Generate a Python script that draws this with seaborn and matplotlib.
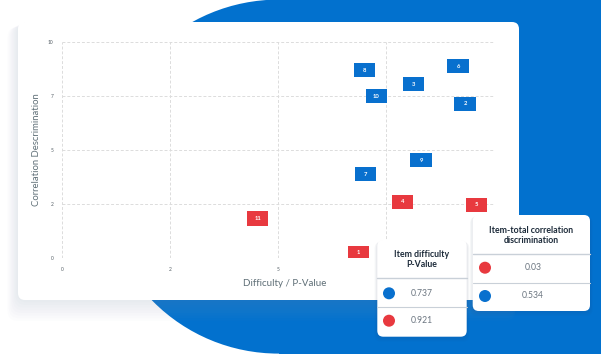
import numpy as np
import pandas as pd
import matplotlib
matplotlib.use('Agg')
import matplotlib.pyplot as plt
import seaborn as sns
from matplotlib.patches import Circle, Rectangle, FancyBboxPatch

# datos del grafico
items = ['1', '2', '3', '4', '5', '6', '7', '8', '9', '10', '11']
difficulty = [6.86, 9.33, 8.14, 7.89, 9.60, 9.17, 7.03, 7.01, 8.31, 7.28, 4.53]
correlation = [0.26, 7.14, 8.03, 2.61, 2.47, 8.86, 3.88, 8.68, 4.52, 7.48, 1.84]
grupo = ['low', 'high', 'high', 'low', 'low', 'high', 'high', 'high', 'high', 'high', 'low']

tick_pos = [0, 2.5, 5, 7.5, 10]
tick_labels = ['0', '2', '5', '7', '10']

# tarjetas
card_a_title = 'Item difficulty\nP-Value'
card_a_values = ['0.737', '0.921']
card_a_groups = ['high', 'low']
card_b_title = 'Item-total correlation\ndiscrimination'
card_b_values = ['0.03', '0.534']
card_b_groups = ['low', 'high']

BLUE = '#0870CE'
RED = '#E8393F'
palette = {'high': BLUE, 'low': RED}

sns.set_theme(style='white')
plt.rcParams['font.family'] = ['Lato', 'DejaVu Sans']

W, H = 601, 354
fig = plt.figure(figsize=(W / 100, H / 100), dpi=100)
fig.patch.set_facecolor('white')

# fondo: mancha azul + tarjeta blanca
bg = fig.add_axes([0, 0, 1, 1], zorder=0)
bg.set_xlim(0, W)
bg.set_ylim(H, 0)
bg.axis('off')
bg.add_patch(Circle((278.5, 176.6), 177, color='#0271CE', lw=0))
bg.add_patch(Rectangle((278.5, 0), W - 278.5, H, color='#0271CE', lw=0))
for i in range(8):
    d = 2 + i * 2.2
    bg.add_patch(FancyBboxPatch((18 - d * 0.6, 22 + d * 0.3), 501 + d * 0.4, 278 + d * 0.9,
                                boxstyle='round,pad=0,rounding_size=10',
                                fc='#8f9fc0', ec='none', alpha=0.025))
bg.add_patch(FancyBboxPatch((18, 22), 501, 278, boxstyle='round,pad=0,rounding_size=7',
                            fc='white', ec='none'))

# grafico de dispersion
ax = fig.add_axes([62 / W, (H - 258.3) / H, 432 / W, 216.6 / H], zorder=1)
ax.patch.set_alpha(0)
df = pd.DataFrame({'item': items, 'x': difficulty, 'y': correlation, 'grupo': grupo})
rect = [(-1.5, -1), (1.5, -1), (1.5, 1), (-1.5, 1), (-1.5, -1)]
sns.scatterplot(data=df, x='x', y='y', hue='grupo', palette=palette, marker=rect,
                s=235, linewidth=0, legend=False, ax=ax, zorder=3)
for _, r in df.iterrows():
    ax.text(r['x'], r['y'], r['item'], color='white', fontsize=4.2, fontweight='bold',
            ha='center', va='center', zorder=4)

ax.set_xlim(0, 10)
ax.set_ylim(0, 10)
ax.set_xticks(tick_pos)
ax.set_xticklabels(tick_labels)
ax.set_yticks(tick_pos)
ax.set_yticklabels(tick_labels)
ax.tick_params(axis='both', length=0, labelsize=3.5, labelcolor='#555f66', pad=6)
ax.grid(True, color='#dcdcdc', linestyle=(0, (3, 2)), linewidth=0.7)
for s in ax.spines.values():
    s.set_visible(False)
ax.set_xlabel('Difficulty / P-Value', fontsize=7, color='#5f6f77', labelpad=9)
ax.set_ylabel('Correlation Descrimination', fontsize=6.8, color='#5f6f77', labelpad=12)
ax.xaxis.set_label_coords(0.515, -0.095)
ax.yaxis.set_label_coords(-0.048, 0.5)

# tarjetas superpuestas
ov = fig.add_axes([0, 0, 1, 1], zorder=5)
ov.set_xlim(0, W)
ov.set_ylim(H, 0)
ov.axis('off')
ov.patch.set_alpha(0)


def draw_card(x0, y0, w, h, title, values, groups, title_y, div1, row_y, div2, dot_x, val_x):
    for i in range(4):
        d = 1 + i * 1.5
        ov.add_patch(FancyBboxPatch((x0 - d * 0.5, y0 + d * 0.3), w + d, h + d * 0.6,
                                    boxstyle='round,pad=0,rounding_size=7',
                                    fc='#33446a', ec='none', alpha=0.03))
    ov.add_patch(FancyBboxPatch((x0, y0), w, h, boxstyle='round,pad=0,rounding_size=6',
                                fc='white', ec='none'))
    ov.text(x0 + w / 2, title_y, title, ha='center', va='center', fontsize=6.3,
            fontweight='bold', color='#1d2b3a', linespacing=1.25)
    ov.plot([x0, x0 + w], [div1, div1], color='#c9d0d8', lw=1.0)
    ov.plot([x0, x0 + w], [div2, div2], color='#c9d0d8', lw=0.8)
    for ry, v, g in zip(row_y, values, groups):
        ov.add_patch(Circle((dot_x, ry), 6, color=palette[g], lw=0))
        ov.text(val_x, ry, v, ha='center', va='center', fontsize=6.2, color='#6b7580')


draw_card(377.3, 240, 89.4, 96.7, card_a_title, card_a_values, card_a_groups,
          259.5, 278.3, [293.3, 320.7], 307.3, 389, 421.7)
draw_card(472.7, 215, 117.3, 96, card_b_title, card_b_values, card_b_groups,
          235.5, 254, [267.7, 296], 282.7, 485, 533)

fig.savefig('out.png', dpi=100)
